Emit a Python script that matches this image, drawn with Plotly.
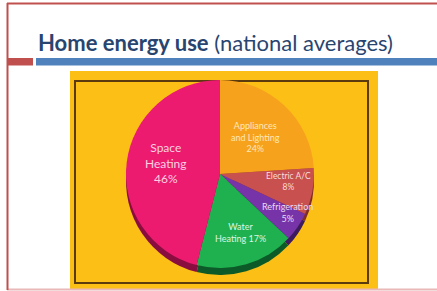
import plotly.graph_objects as go

# ---- data ----
categories = ["Appliances and Lighting", "Electric A/C", "Refrigeration", "Water Heating", "Space Heating"]
values = [24, 8, 5, 17, 46]
label_texts = [
    "Appliances<br>and Lighting<br>{}%",
    "Electric A/C<br>{}%",
    "Refrigeration<br>{}%",
    "Water<br>Heating {}%",
    "Space<br>Heating<br>{}%",
]
title_bold = "Home energy use"
title_rest = " (national averages)"

# ---- styles ----
colors = ["#f7a21c", "#c8504e", "#7634a8", "#1fb150", "#ec1b6f"]
dark_colors = ["#a8660c", "#7e2c2a", "#3e1a5e", "#0c5a28", "#8a0d3f"]
label_colors = ["#fde8bd", "#f7dcdc", "#eadcf5", "#dcf6e4", "#fbd0e2"]
label_pos = [(255, 137), (288, 181), (287, 212), (240, 232), (166, 163)]
label_sizes = [9, 8.5, 9, 9, 12]

W, H = 437, 291
cx, cy, r = 220, 174, 94
depth = 7


def dom(cx, cy, r):
    return dict(x=[(cx - r) / W, (cx + r) / W], y=[(H - cy - r) / H, (H - cy + r) / H])


fig = go.Figure()
fig.add_trace(go.Pie(
    labels=categories, values=values, sort=False, direction="clockwise", rotation=0,
    marker=dict(colors=dark_colors, line=dict(width=0)), textinfo="none",
    hoverinfo="skip", showlegend=False, domain=dom(cx, cy + depth, r),
))
fig.add_trace(go.Pie(
    labels=categories, values=values, sort=False, direction="clockwise", rotation=0,
    marker=dict(colors=colors, line=dict(width=0)), textinfo="none",
    showlegend=False, domain=dom(cx, cy, r),
))

shapes = [
    # yellow panel
    dict(type="rect", x0=70, x1=378, y0=71, y1=290, fillcolor="#fcbf16", line=dict(width=0), layer="below"),
    # inner border
    dict(type="rect", x0=75, x1=368, y0=81, y1=283, line=dict(color="#5b3a0e", width=2), layer="below"),
    # slide frame
    dict(type="line", x0=7.5, x1=7.5, y0=3, y1=290, line=dict(color="#c0504d", width=2)),
    dict(type="line", x0=7, x1=437, y0=3.5, y1=3.5, line=dict(color="#c0504d", width=2)),
    dict(type="line", x0=7, x1=437, y0=289.5, y1=289.5, line=dict(color="#eab8b8", width=2), layer="below"),
    # title bars
    dict(type="rect", x0=8, x1=33, y0=58, y1=65.5, fillcolor="#c0504d", line=dict(width=0)),
    dict(type="rect", x0=36, x1=437, y0=58, y1=65.5, fillcolor="#4f81bd", line=dict(width=0)),
]

annotations = [
    dict(x=36, y=42, xref="x", yref="y", xanchor="left", yanchor="middle", showarrow=False,
         text="<b>" + title_bold + "</b>" + title_rest,
         font=dict(family="Lato", size=22, color="#284570")),
]
for txt, v, (lx, ly), col, sz in zip(label_texts, values, label_pos, label_colors, label_sizes):
    annotations.append(dict(x=lx, y=ly, xref="x", yref="y", xanchor="center", yanchor="middle",
                            showarrow=False, text=txt.format(v),
                            font=dict(family="Lato", size=sz, color=col)))

fig.update_layout(
    width=W, height=H, margin=dict(l=0, r=0, t=0, b=0),
    paper_bgcolor="white", plot_bgcolor="rgba(0,0,0,0)",
    xaxis=dict(range=[0, W], visible=False, fixedrange=True),
    yaxis=dict(range=[H, 0], visible=False, fixedrange=True),
    shapes=shapes, annotations=annotations,
)

fig.write_html(
    "out.html",
    config={"displayModeBar": False},
    post_script="document.body.style.margin='0';document.body.style.overflow='hidden';",
)
